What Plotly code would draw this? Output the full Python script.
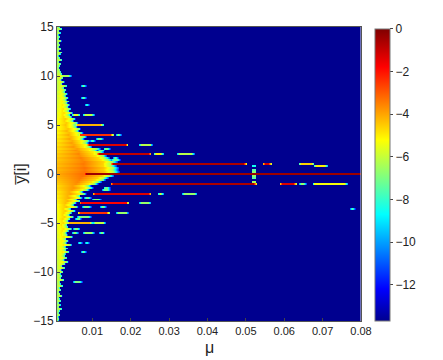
import numpy as np
import plotly.graph_objects as go

# rows of the map, y = -15 ... 15 in steps of 0.2
y_rows = np.round(np.arange(-15, 15.1, 0.2), 1)
mu_cols = np.round(np.arange(0.0008, 0.08001, 0.00025), 5)

# right edge of the main mass per row (in units of 1e-3)
edge_milli = [
    1.3, 1.5, 1.3, 1.7, 1.4, 1.6, 2.1, 1.5, 1.8, 1.4, 1.9,
    1.6, 1.5, 2.2, 1.7, 1.5, 1.9, 1.6, 2.3, 1.8, 1.7,
    2.6, 1.9, 2.1, 1.8, 2.4, 2.0, 2.8, 2.2, 2.9, 3.6,
    2.7, 3.3, 2.8, 3.0, 3.8, 3.1, 3.5, 3.0, 4.4, 3.2,
    3.6, 3.1, 4.6, 3.4, 3.2, 3.7, 4.4, 3.5, 3.3, 4.2,
    3.6, 4.0, 4.8, 3.9, 4.4, 5.2, 4.2, 5.8, 4.9, 5.4,
    6.4, 5.6, 7.0, 6.4, 7.9, 7.2, 8.6, 9.5, 9.0, 10.6,
    11.4, 12.5, 13.2, 14.4, 15.2, 15.6, 15.4, 15.5, 15.0, 14.8,
    15.3, 14.2, 13.5, 12.8, 11.8, 12.0, 10.5, 11.2, 9.2, 9.6,
    8.4, 8.8, 7.4, 8.0, 6.8, 7.2, 6.0, 6.6, 5.6, 5.4,
    5.8, 4.8, 5.2, 4.4, 4.0, 4.6, 3.8, 4.2, 3.6, 3.9,
    3.4, 3.8, 3.2, 3.6, 3.0, 3.4, 2.8, 3.1, 2.6, 3.3,
    2.2, 2.7, 2.0, 2.4, 2.9, 2.1, 1.9, 1.7, 1.5, 1.6,
    1.9, 1.4, 2.1, 1.6, 1.3, 1.8, 2.2, 1.5, 1.9, 1.4,
    1.7, 1.5, 2.0, 1.4, 1.6, 1.3, 1.8, 1.5, 2.1, 1.6,
]

# strongest level of the main mass per row
peak_level = [
    -6.6, -6.4, -6.7, -6.1, -6.5, -6.2, -6.0, -6.4, -6.1, -6.5, -6.0,
    -6.2, -6.3, -5.8, -6.1, -6.2, -5.9, -6.1, -5.7, -6.0, -5.9,
    -5.6, -5.8, -5.7, -5.9, -5.5, -5.7, -5.4, -5.6, -5.3, -5.2,
    -5.4, -5.2, -5.3, -5.2, -5.0, -5.2, -5.1, -5.2, -4.9, -5.1,
    -5.0, -5.1, -4.8, -5.0, -4.9, -4.8, -4.8, -4.9, -4.8, -4.7,
    -4.8, -4.6, -4.6, -4.7, -4.6, -4.5, -4.6, -4.4, -4.5, -4.3,
    -4.2, -4.3, -4.1, -4.2, -4.0, -4.1, -3.9, -3.8, -3.9, -3.7,
    -3.6, -3.5, -3.4, -3.3, -3.2, -3.3, -3.4, -3.3, -3.5, -3.4,
    -3.5, -3.6, -3.5, -3.7, -3.6, -3.8, -3.7, -3.9, -3.8, -4.0,
    -3.9, -4.1, -4.0, -4.2, -4.1, -4.3, -4.2, -4.4, -4.5, -4.4,
    -4.5, -4.6, -4.5, -4.7, -4.8, -4.7, -4.9, -4.8, -5.0, -4.9,
    -5.1, -5.0, -5.1, -5.2, -5.1, -5.3, -5.2, -5.4, -5.5, -5.4,
    -5.6, -5.4, -5.7, -5.5, -5.3, -5.7, -5.9, -6.0, -6.2, -6.1,
    -5.9, -6.3, -5.8, -6.1, -6.4, -6.0, -5.8, -6.3, -6.0, -6.4,
    -6.1, -6.3, -5.9, -6.4, -6.2, -6.5, -6.1, -6.3, -5.9, -6.2,
]

# thin horizontal streaks: row, start, end, level
streak_y = [0, 1, 1, 1, 0.8, -1, -1, -1, -1, 2, 2, 2, -2, -2, -2, 3, 3, -3, -3,
            4, 4, -4, -4, 5, -5, -5, 6, 6, -6, -6, -6, 7, 7.8, 9, 10, -7, -7,
            -8, -11, -3.6, 3.6, 2.6, 1.6, -1.6, -2.6, -3.4, -3.4, -4.4, -5.6,
            3.4, 2.4, 1.4, -1.4, -2.4, -4.6]
streak_start = [.0080, .0150, .0545, .0640, .0680, .0150, .0590, .0640, .0675, .0112, .0263, .0323,
                .0102, .0271, .0334, .0086, .0221, .0068, .0221, .0065, .0162, .0063, .0162,
                .0055, .0034, .0102, .0047, .0076, .0047, .0076, .0118, .0081, .0073, .0073,
                .0010, .0063, .0081, .0073, .0050, .0771, .0110, .0130, .0155, .0125, .0100,
                .0075, .0120, .0060, .0050,
                .0095, .0115, .0150, .0130, .0080, .0055]
streak_end = [.0800, .0505, .0570, .0680, .0715, .0528, .0635, .0660, .0766, .0255, .0287, .0367,
              .0255, .0287, .0375, .0193, .0258, .0196, .0255, .0156, .0177, .0146, .0196,
              .0128, .0102, .0136, .0068, .0107, .0063, .0107, .0133, .0094, .0086, .0086,
              .0047, .0076, .0094, .0086, .0076, .0787, .0130, .0150, .0170, .0150, .0125,
              .0100, .0140, .0100, .0070,
              .0110, .0135, .0175, .0150, .0100, .0075]
streak_level = [-0.4, -0.6, -1.2, -4.6, -5.0, -0.6, -1.3, -6.6, -5.3, -0.9, -5.0, -6.2,
                -1.3, -5.6, -6.6, -1.3, -6.2, -1.8, -6.6, -2.4, -6.6, -2.4, -6.6,
                -4.2, -4.2, -6.0, -5.6, -6.0, -6.6, -6.6, -7.0, -7.0, -7.0, -7.0,
                -6.4, -7.0, -7.0, -7.0, -7.0, -7.4, -7.0, -7.0, -7.0, -7.0, -7.0,
                -7.0, -7.0, -7.0, -7.0,
                -7.2, -7.2, -7.2, -7.2, -7.2, -7.2]

# small blob near mu = 0.052
blob_y = [0.8, 0.4, 0.2, -0.2, -0.4, -0.8]
blob_level = [-8.5, -7.5, -6.8, -6.8, -7.5, -6.5]

z_floor = -13.7
mass_t = [0, 0.5, 0.85, 1.0, 1.1]
mass_drop = [0.9, 0.0, 1.2, 3.0, 8.5]

# matlab jet
jet = [[0, "#00008f"], [0.11, "#0000ff"], [0.365, "#00ffff"], [0.62, "#ffff00"],
       [0.87, "#ff0000"], [1, "#800000"]]

z = np.full((len(y_rows), len(mu_cols)), z_floor)
for i in range(len(y_rows)):
    t = (mu_cols - 0.0008) / (edge_milli[i] / 1000 - 0.0008)
    z[i] = np.maximum(z_floor, peak_level[i] - np.interp(t, mass_t, mass_drop, right=99))

for sy, s0, s1, lev in zip(streak_y, streak_start, streak_end, streak_level):
    row = np.argmin(np.abs(y_rows - sy))
    on = np.where((mu_cols >= s0) & (mu_cols <= s1))[0]
    vals = np.full(len(on), lev)
    # the ends of a streak fade out
    if s1 < 0.08:
        vals[-3:] = lev - np.array([1.5, 3.0, 4.5])[-len(vals[-3:]):]
    vals[:2] = lev - np.array([3.0, 1.5])[:len(vals[:2])]
    z[row, on] = np.maximum(z[row, on], vals)

blob_col = np.argmin(np.abs(mu_cols - 0.0523))
for by, lev in zip(blob_y, blob_level):
    row = np.argmin(np.abs(y_rows - by))
    z[row, blob_col - 2:blob_col + 2] = lev

fig = go.Figure()
fig.add_trace(go.Heatmap(
    x=mu_cols,
    y=y_rows,
    z=z,
    zmin=z_floor,
    zmax=0,
    colorscale=jet,
    colorbar=dict(
        x=1.046,
        xanchor="left",
        xpad=0,
        ypad=0,
        y=0.497,
        yanchor="middle",
        len=0.993,
        thickness=15,
        outlinewidth=1,
        outlinecolor="#777777",
        tickvals=[0, -2, -4, -6, -8, -10, -12],
        ticks="outside",
        ticklen=3,
        tickcolor="#444444",
        tickfont=dict(size=12, color="#222222"),
    ),
))

# the page body has an 8px margin, so the figure starts at (8, 8)
fig.update_layout(
    width=435,
    height=352,
    margin=dict(l=49, r=82, t=19, b=39, autoexpand=False),
    paper_bgcolor="white",
    font=dict(family="Liberation Sans", color="#222222"),
    xaxis=dict(
        range=[0.0008, 0.08],
        automargin=False,
        tickvals=[0.01, 0.02, 0.03, 0.04, 0.05, 0.06, 0.07, 0.08],
        ticktext=["0.01", "0.02", "0.03", "0.04", "0.05", "0.06", "0.07", "0.08"],
        ticks="inside",
        ticklen=3,
        showgrid=False,
        zeroline=False,
        mirror=True,
        showline=True,
        linecolor="#555555",
        linewidth=1,
        tickfont=dict(size=11),
    ),
    yaxis=dict(
        range=[-15, 15],
        automargin=False,
        tickvals=[-15, -10, -5, 0, 5, 10, 15],
        ticks="inside",
        ticklen=3,
        showgrid=False,
        zeroline=False,
        mirror=True,
        showline=True,
        linecolor="#555555",
        linewidth=1,
        tickfont=dict(size=12),
    ),
    annotations=[
        dict(text="μ", x=0.5, y=-0.09, xref="paper", yref="paper", showarrow=False,
             font=dict(size=16), xanchor="center", yanchor="middle"),
        dict(text="y\u0305[i]", x=-0.122, y=0.5, xref="paper", yref="paper", showarrow=False,
             font=dict(size=16), textangle=-90, xanchor="center", yanchor="middle"),
    ],
)

fig.write_html("out.html")
